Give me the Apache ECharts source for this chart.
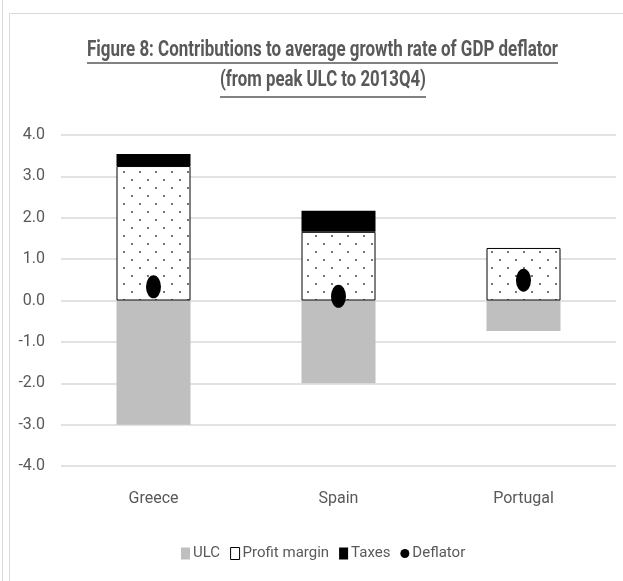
<!DOCTYPE html>
<html>
<head>
<meta charset="utf-8">
<script src="https://cdn.jsdelivr.net/npm/echarts@6/dist/echarts.min.js"></script>
<style>
  html, body { margin: 0; padding: 0; background: #fff; }
  #chart { width: 623px; height: 581px; }
</style>
</head>
<body>
<div id="chart"></div>
<script>
var countries = ["Greece", "Spain", "Portugal"];
var ulc = [-3.0, -2.0, -0.74];
var profitMargin = [3.25, 1.66, 1.27];
var taxes = [0.29, 0.51, 0];
var deflator = [0.33, 0.1, 0.49];
var yTicks = [-4, -3, -2, -1, 0, 1, 2, 3, 4];
var titleLines = [
  "Figure 8: Contributions to average growth rate of GDP deflator",
  "(from peak ULC to 2013Q4)"
];

var FONT = 'Roboto, "DejaVu Sans", sans-serif';
var TITLE_FONT = 'bold 22px ' + FONT;
var ellipse = "path://M50,0 A50,50 0 1,1 50,100 A50,50 0 1,1 50,0 Z";

// dotted fill for the profit margin bars
var tile = document.createElement("canvas");
tile.width = 16;
tile.height = 16;
var ctx = tile.getContext("2d");
ctx.fillStyle = "#fff";
ctx.fillRect(0, 0, 16, 16);
ctx.fillStyle = "#333";
[[4, 4], [12, 12]].forEach(function (p) {
  ctx.beginPath();
  ctx.arc(p[0], p[1], 0.9, 0, Math.PI * 2);
  ctx.fill();
});

// the original title is a narrow font; squeeze ours to the same width
ctx.font = TITLE_FONT;
var titleSpans = [[87, 558, 50, 63], [220, 426, 80, 97]]; // left, right, mid y, underline y
var titleGraphics = [];
titleLines.forEach(function (txt, i) {
  var s = titleSpans[i];
  var w = ctx.measureText(txt).width;
  titleGraphics.push({
    type: "text",
    x: (s[0] + s[1]) / 2,
    y: s[2],
    scaleX: (s[1] - s[0]) / w,
    style: {
      text: txt,
      font: TITLE_FONT,
      fill: "#595959",
      textAlign: "center",
      textVerticalAlign: "middle"
    }
  });
  titleGraphics.push({
    type: "line",
    shape: { x1: s[0], y1: s[3], x2: s[1], y2: s[3] },
    style: { stroke: "#595959", lineWidth: 1.5 }
  });
});

var chart = echarts.init(document.getElementById("chart"));
chart.setOption({
  animation: false,
  textStyle: { fontFamily: FONT },
  graphic: [
    { type: "line", shape: { x1: 2.5, y1: 0, x2: 2.5, y2: 581 }, style: { stroke: "#d9d9d9", lineWidth: 1 } },
    { type: "rect", shape: { x: 9.5, y: 13.5, width: 620, height: 580 }, style: { fill: null, stroke: "#d9d9d9", lineWidth: 1 } }
  ].concat(titleGraphics),
  legend: {
    top: 541,
    left: 176,
    itemWidth: 9,
    itemHeight: 12,
    itemGap: 10,
    textStyle: { fontFamily: FONT, fontSize: 15, color: "#595959", padding: [0, 0, 0, -2] },
    data: [
      { name: "ULC", icon: "rect" },
      { name: "Profit margin", icon: "rect", itemStyle: { color: "#fff", borderColor: "#000", borderWidth: 1 } },
      { name: "Taxes", icon: "rect" },
      { name: "Deflator", icon: ellipse }
    ]
  },
  grid: { left: 61, right: 7, top: 135, bottom: 115 },
  xAxis: {
    type: "category",
    data: countries,
    axisLine: { show: false },
    axisTick: { show: false },
    axisLabel: { margin: 25, fontFamily: FONT, fontSize: 16, color: "#595959" }
  },
  yAxis: {
    type: "value",
    min: yTicks[0],
    max: yTicks[yTicks.length - 1],
    interval: 1,
    axisLine: { show: false },
    axisTick: { show: false },
    splitLine: { lineStyle: { color: "#d9d9d9", width: 1.5 } },
    axisLabel: {
      margin: 16,
      fontFamily: FONT,
      fontSize: 16,
      color: "#595959",
      formatter: function (v) { return v.toFixed(1); }
    }
  },
  series: [
    {
      name: "ULC",
      type: "bar",
      stack: "total",
      barWidth: "40%",
      data: ulc,
      itemStyle: { color: "#bfbfbf" }
    },
    {
      name: "Profit margin",
      type: "bar",
      stack: "total",
      data: profitMargin,
      itemStyle: { color: { image: tile, repeat: "repeat" }, borderColor: "#000", borderWidth: 1 }
    },
    {
      name: "Taxes",
      type: "bar",
      stack: "total",
      data: taxes,
      itemStyle: { color: "#000" }
    },
    {
      name: "Deflator",
      type: "scatter",
      symbol: ellipse,
      symbolSize: [15, 23],
      data: deflator,
      itemStyle: { color: "#000", opacity: 1 },
      z: 5
    }
  ]
});
</script>
</body>
</html>
